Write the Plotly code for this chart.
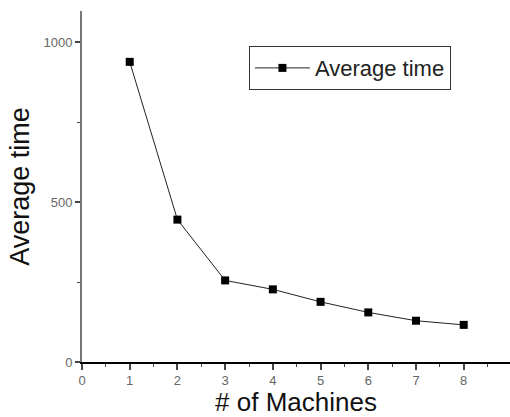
import plotly.graph_objects as go

# Average run time versus number of machines
machines = [1, 2, 3, 4, 5, 6, 7, 8]
avg_time = [938, 445, 255, 227, 188, 155, 129, 116]

x_ticks = [0, 1, 2, 3, 4, 5, 6, 7, 8, 9]
y_ticks = [0, 500, 1000]

fig = go.Figure()
fig.add_trace(go.Scatter(
    x=machines, y=avg_time,
    mode="lines+markers",
    name="Average time",
    line=dict(color="#222222", width=1),
    marker=dict(symbol="square", size=8, color="black"),
))

fig.update_layout(
    width=510, height=417,
    margin=dict(l=82, r=0, t=11, b=55),
    paper_bgcolor="white", plot_bgcolor="white",
    font=dict(family="Liberation Sans, Arial, sans-serif", color="#222"),
    showlegend=True,
    legend=dict(
        x=0.39, y=0.9, xanchor="left", yanchor="top",
        bordercolor="#333", borderwidth=1, bgcolor="white",
        font=dict(size=22, color="#222"),
        itemwidth=55, tracegroupgap=0,
    ),
    xaxis=dict(
        range=[0, 8.97], tickvals=x_ticks,
        showgrid=False, zeroline=False,
        showline=True, linecolor="black", linewidth=1.5,
        ticks="outside", ticklen=6, tickcolor="#444", tickwidth=1.5,
        minor=dict(dtick=0.5, ticks="outside", ticklen=3, tickcolor="#444", tickwidth=1),
        tickfont=dict(size=13, color="#666"),
        title=dict(text="# of Machines", font=dict(size=26, color="#111"), standoff=4),
    ),
    yaxis=dict(
        range=[0, 1097], tickvals=y_ticks,
        showgrid=False, zeroline=False,
        showline=True, linecolor="#777", linewidth=2,
        ticks="outside", ticklen=5, tickcolor="#444", tickwidth=1.5,
        minor=dict(dtick=250, ticks="outside", ticklen=3, tickcolor="#444", tickwidth=1),
        tickfont=dict(size=13, color="#666"),
        title=dict(text="Average time", font=dict(size=27, color="#111"), standoff=6),
    ),
)

fig.write_html("out.html")
